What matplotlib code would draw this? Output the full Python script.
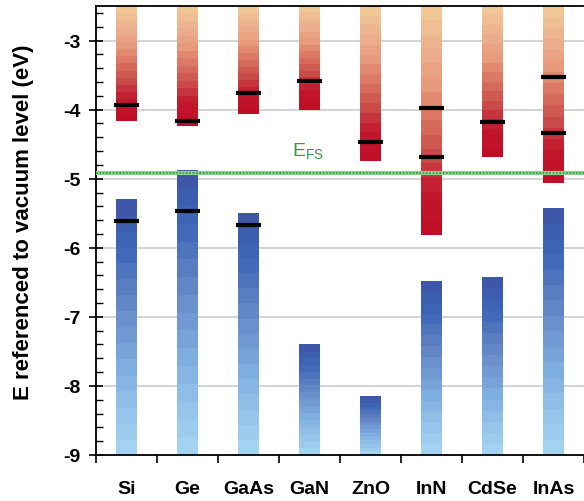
import numpy as np
import matplotlib.pyplot as plt
from matplotlib.colors import LinearSegmentedColormap

plt.rcParams['font.family'] = ['Liberation Sans', 'DejaVu Sans']

materiais = ['Si', 'Ge', 'GaAs', 'GaN', 'ZnO', 'InN', 'CdSe', 'InAs']
# fundo da banda de conducao (eV)
cb_min = [-4.16, -4.23, -4.06, -4.00, -4.75, -5.81, -4.69, -5.06]
# topo da banda de valencia (eV)
vb_max = [-5.30, -4.88, -5.49, -7.39, -8.14, -6.48, -6.43, -5.42]
# niveis marcados em preto (material, energia)
niveis_x = [0, 0, 1, 1, 2, 2, 3, 4, 5, 5, 6, 7, 7]
niveis_y = [-3.94, -5.61, -4.17, -5.47, -3.76, -5.67, -3.59, -4.47, -3.98, -4.69, -4.18, -3.53, -4.34]
e_fs = -4.92

y_topo = -2.5
y_base = -9.0
n_passos = 16
largura = 0.36

verm = LinearSegmentedColormap.from_list('verm', ['#f1c796', '#ebb08e', '#e89a7c', '#d9725f', '#c94a48', '#c2162c', '#bf0f27'])
azul = LinearSegmentedColormap.from_list('azul', ['#3e57a8', '#3b67b8', '#5a7cc0', '#6f95cf', '#7eade0', '#92c2e8', '#a3d3f1'])

fig = plt.figure(figsize=(5.84, 5.02), dpi=100)
ax = fig.add_axes([96/584, 1-456/502, 1-96/584, 449/502])

for i in range(len(materiais)):
    # banda de conducao: degraus do topo para baixo
    bordas = np.linspace(y_topo, cb_min[i], n_passos + 1)
    for k in range(n_passos):
        ax.bar(i, bordas[k+1] - bordas[k], bottom=bordas[k], width=largura,
               color=verm(k/(n_passos-1)), edgecolor='none', zorder=2)
    # banda de valencia
    bordas = np.linspace(vb_max[i], y_base, n_passos + 1)
    for k in range(n_passos):
        ax.bar(i, bordas[k+1] - bordas[k], bottom=bordas[k], width=largura,
               color=azul(k/(n_passos-1)), edgecolor='none', zorder=2)

ax.hlines(niveis_y, np.array(niveis_x) - 0.2, np.array(niveis_x) + 0.2,
          colors='black', linewidth=3, zorder=4)

ax.axhline(e_fs, color='#8fcf8f', linewidth=3, zorder=3)
ax.axhline(e_fs, color='#3a9a3a', linewidth=1.2, linestyle=(0, (1, 1)), zorder=3)
ax.text(2.72, -4.6, 'E$_{\\mathregular{FS}}$', color='#3a9a4a', fontsize=14, ha='left', va='center')

ax.set_xlim(-0.5, len(materiais) - 0.5)
ax.set_ylim(y_base, y_topo)
ax.set_yticks([-3, -4, -5, -6, -7, -8, -9])
ax.set_yticklabels(['-3', '-4', '-5', '-6', '-7', '-8', '-9'], fontsize=14, fontweight='bold')
ax.set_yticks(np.arange(-9, -2.5, 0.2), minor=True)
ax.tick_params(axis='y', which='major', direction='inout', length=10, width=1.2, pad=6)
ax.tick_params(axis='y', which='minor', direction='in', length=5, width=1)
ax.set_xticks(np.arange(-0.5, len(materiais), 1.0))
ax.set_xticklabels([])
ax.set_xticks(np.arange(len(materiais)), minor=True)
ax.set_xticklabels(materiais, minor=True, fontsize=14, fontweight='bold')
ax.tick_params(axis='x', which='major', direction='out', length=6, width=1.2)
ax.tick_params(axis='x', which='minor', length=0, pad=18)

for v in [-3, -4, -5, -6, -7, -8]:
    ax.axhline(v, color='#cccccc', linewidth=1.2, zorder=1)

ax.spines['right'].set_visible(False)
for s in ['left', 'bottom', 'top']:
    ax.spines[s].set_linewidth(1.3)

ax.set_ylabel('E referenced to vacuum level (eV)', fontsize=16, fontweight='bold')
ax.yaxis.set_label_coords(-0.128, 0.52)

plt.savefig('out.png', dpi=100)
